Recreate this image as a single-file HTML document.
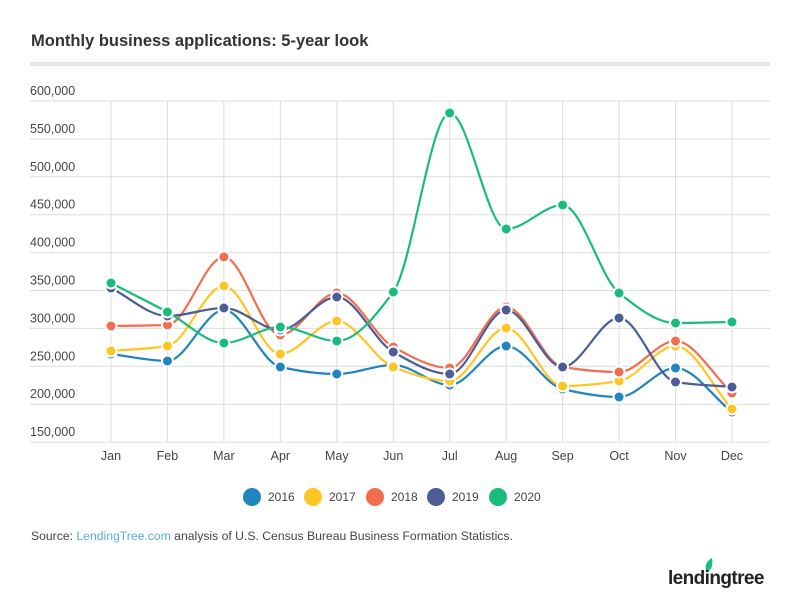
<!DOCTYPE html>
<html><head><meta charset="utf-8"><style>
body{margin:0;background:#fff;width:800px;height:603px;overflow:hidden;font-family:"Liberation Sans",sans-serif}
</style></head><body>
<svg id="s" width="800" height="603" xmlns="http://www.w3.org/2000/svg" font-family="Liberation Sans, sans-serif">
<text x="31" y="46" font-size="16.5" font-weight="bold" fill="#333">Monthly business applications: 5-year look</text>
<rect x="30" y="62" width="740" height="4" fill="#e6e6e6"/>
<g id="grid"></g>
<g id="lines"></g>
<g font-size="12" fill="#444">
<circle cx="252" cy="497" r="9" fill="#1f84c0"/><text x="268" y="501">2016</text>
<circle cx="313" cy="497" r="9" fill="#fec623"/><text x="329" y="501">2017</text>
<circle cx="375" cy="497" r="9" fill="#f26d4f"/><text x="391" y="501">2018</text>
<circle cx="436" cy="497" r="9" fill="#4b5c96"/><text x="452" y="501">2019</text>
<circle cx="498" cy="497" r="9" fill="#1abc7c"/><text x="514" y="501">2020</text>
</g>
<text x="31" y="540" font-size="12.2" fill="#444">Source: <tspan fill="#5aaedc">LendingTree.com</tspan> analysis of U.S. Census Bureau Business Formation Statistics.</text>
<path d="M712 558 q-8 4 -6 14 q8 -2 6 -14z" fill="#1abc7c"/>
<text x="668" y="584" font-size="19" font-weight="bold" fill="#222" letter-spacing="-0.6">lendingtree</text>
</svg>
<script>
var g=document.getElementById('grid'),L=document.getElementById('lines'),ns='http://www.w3.org/2000/svg';
function el(t,a,p){var e=document.createElementNS(ns,t);for(var k in a)e.setAttribute(k,a[k]);p.appendChild(e);return e;}
var X=function(i){return 111+i*56.45;};
var m=['Jan','Feb','Mar','Apr','May','Jun','Jul','Aug','Sep','Oct','Nov','Dec'];
for(var i=0;i<10;i++){var y=101+i*37.9;el('line',{x1:30,x2:770,y1:y,y2:y,stroke:'#dcdcdc','stroke-width':1},g);
var t=el('text',{x:30,y:y-6,'font-size':12.5,fill:'#444'},g);t.textContent=(600-i*50)+',000';}
for(var i=0;i<12;i++){el('line',{x1:X(i),x2:X(i),y1:101,y2:442,stroke:'#dcdcdc','stroke-width':1},g);
var t=el('text',{x:X(i),y:460,'font-size':12.5,fill:'#444','text-anchor':'middle'},g);t.textContent=m[i];}
var S=[
['#1f84c0',[354,361,310,367,374,365,385,346,389,397,368,412]],
['#fec623',[351,346,286,354,321,367,381,328,386,381,346,409]],
['#f26d4f',[326,325,257,335,293,347,368,307,367,372,341,393]],
['#4b5c96',[288,316,308,330,297,352,374,310,367,318,382,387]],
['#1abc7c',[283,312,343,327,341,292,113,229,205,293,323,322]]];
S.forEach(function(s){var c=s[0],v=s[1],n=v.length,d='M'+X(0)+' '+v[0];
var dx=56.45,sl=[],tg=[];for(var i=0;i<n-1;i++)sl.push((v[i+1]-v[i])/dx);
for(var i=0;i<n;i++){if(i==0)tg.push(sl[0]);else if(i==n-1)tg.push(sl[n-2]);else{var a=sl[i-1],b=sl[i];tg.push(a*b<=0?0:2/(1/a+1/b));}}
for(var i=0;i<n-1;i++){d+=' C'+(X(i)+dx/3)+' '+(v[i]+tg[i]*dx/3)+' '+(X(i+1)-dx/3)+' '+(v[i+1]-tg[i+1]*dx/3)+' '+X(i+1)+' '+v[i+1];}
el('path',{d:d,fill:'none',stroke:c,'stroke-width':2.2},L);
v.forEach(function(y,i){el('circle',{cx:X(i),cy:y,r:5.5,fill:c,stroke:'#fff','stroke-width':2},L);});});
</script>
</body></html>
